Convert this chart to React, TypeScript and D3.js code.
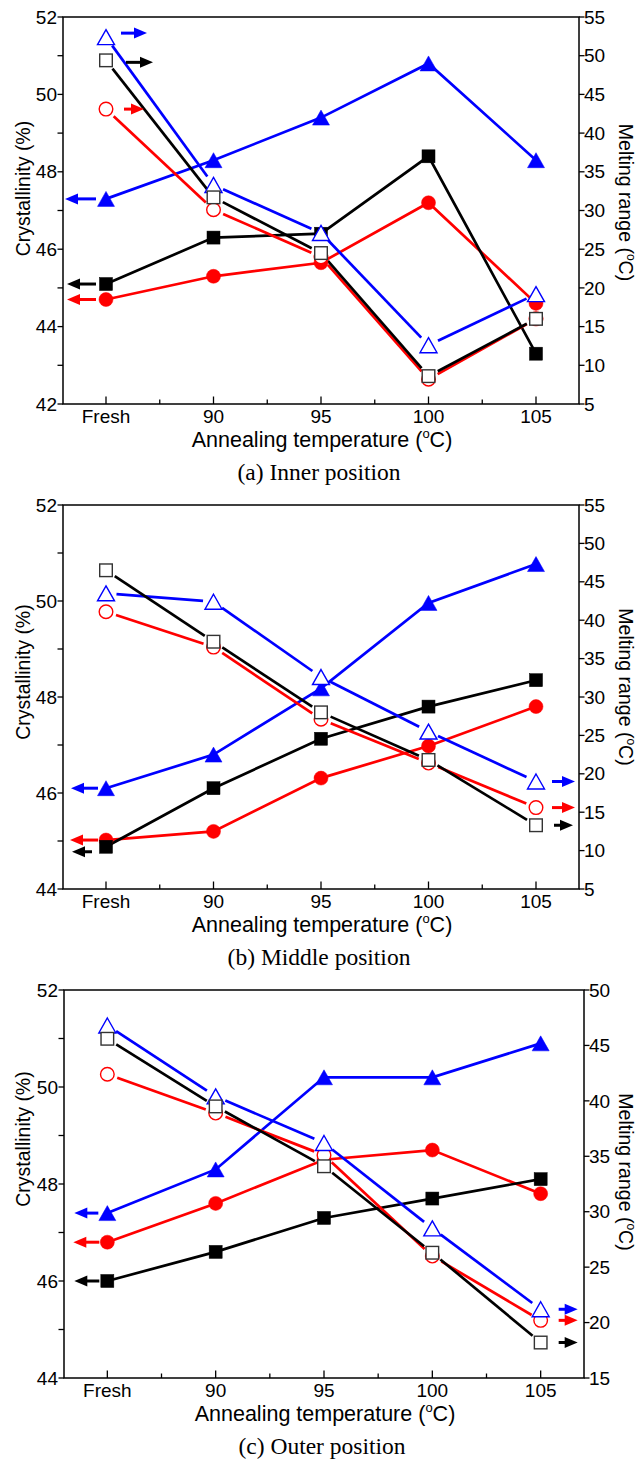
import React from "react";
import * as d3 from "d3";

// ---------- DATA ----------
const categories = ["Fresh", "90", "95", "100", "105"];

// (a) Inner position
const innerCrystBlack = [45.1, 46.3, 46.4, 48.4, 43.3];
const innerCrystRed = [44.7, 45.3, 45.65, 47.2, 44.6];
const innerCrystBlue = [47.3, 48.3, 49.4, 50.8, 48.3];
const innerMeltBlack = [49.4, 31.7, 24.5, 8.6, 16.0];
const innerMeltRed = [43.1, 30.1, 24.0, 8.2, 16.0];
const innerMeltBlue = [52.4, 33.3, 27.1, 12.6, 19.2];

// (b) Middle position
const middleCrystBlack = [44.88, 46.1, 47.13, 47.8, 48.35];
const middleCrystRed = [45.02, 45.2, 46.31, 46.98, 47.8];
const middleCrystBlue = [46.1, 46.8, 48.18, 49.96, 50.77];
const middleMeltBlack = [46.5, 37.2, 28.0, 21.8, 13.3];
const middleMeltRed = [41.1, 36.5, 27.1, 21.4, 15.6];
const middleMeltBlue = [43.5, 42.4, 32.6, 25.5, 19.0];

// (c) Outer position
const outerCrystBlack = [46.0, 46.6, 47.3, 47.7, 48.1];
const outerCrystRed = [46.8, 47.6, 48.5, 48.7, 47.8];
const outerCrystBlue = [47.4, 48.3, 50.2, 50.2, 50.9];
const outerMeltBlack = [45.6, 39.5, 34.1, 26.3, 18.2];
const outerMeltRed = [42.4, 38.9, 35.1, 26.0, 20.2];
const outerMeltBlue = [46.8, 40.4, 36.2, 28.5, 21.2];

const leftDomainA = [42, 52];
const rightDomainA = [5, 55];
const leftDomainB = [44, 52];
const rightDomainB = [5, 55];
const leftDomainC = [44, 52];
const rightDomainC = [15, 50];

const panelTitles = ["(a) Inner position", "(b) Middle position", "(c) Outer position"];

// ---------- STYLE ----------
const BLACK = "#000000";
const RED = "#ff0000";
const BLUE = "#0000ff";
const SANS = "'Liberation Sans', Arial, sans-serif";
const SERIF = "'Liberation Serif', 'Times New Roman', serif";

type Shape = "square" | "circle" | "triangle";
interface Series {
  values: number[];
  color: string;
  shape: Shape;
  filled: boolean;
  axis: "left" | "right";
}
interface Arrow {
  series: number;
  index: number;
  dir: "left" | "right";
  tail: number;
  tip: number;
  dy?: number;
}
interface PanelCfg {
  top: number;
  bottom: number;
  left: number;
  right: number;
  leftDomain: number[];
  rightDomain: number[];
  series: Series[];
  arrows: Arrow[];
  title: string;
  leftTitleDy: number;
  rightTitleDy: number;
}

function mk(values: number[], color: string, shape: Shape, filled: boolean): Series {
  return { values, color, shape, filled, axis: filled ? "left" : "right" };
}

// order: filled (red, blue, black), then open (red, blue, black)
function seriesSet(cr: number[], cb: number[], ck: number[], mr: number[], mb: number[], mk2: number[]): Series[] {
  return [
    mk(cr, RED, "circle", true),
    mk(cb, BLUE, "triangle", true),
    mk(ck, BLACK, "square", true),
    mk(mr, RED, "circle", false),
    mk(mb, BLUE, "triangle", false),
    mk(mk2, BLACK, "square", false),
  ];
}

const panels: PanelCfg[] = [
  {
    top: 17, bottom: 404, left: 63, right: 579,
    leftDomain: leftDomainA, rightDomain: rightDomainA,
    series: seriesSet(innerCrystRed, innerCrystBlue, innerCrystBlack, innerMeltRed, innerMeltBlue, innerMeltBlack),
    arrows: [
      { series: 1, index: 0, dir: "left", tail: -10, tip: -41 },
      { series: 2, index: 0, dir: "left", tail: -10, tip: -39 },
      { series: 0, index: 0, dir: "left", tail: -10, tip: -39 },
      { series: 4, index: 0, dir: "right", tail: 15, tip: 41, dy: -4 },
      { series: 5, index: 0, dir: "right", tail: 20, tip: 47, dy: 2 },
      { series: 3, index: 0, dir: "right", tail: 18, tip: 38 },
    ],
    title: panelTitles[0],
    leftTitleDy: -22,
    rightTitleDy: -8,
  },
  {
    top: 505, bottom: 889, left: 63, right: 579,
    leftDomain: leftDomainB, rightDomain: rightDomainB,
    series: seriesSet(middleCrystRed, middleCrystBlue, middleCrystBlack, middleMeltRed, middleMeltBlue, middleMeltBlack),
    arrows: [
      { series: 1, index: 0, dir: "left", tail: -8, tip: -35 },
      { series: 0, index: 0, dir: "left", tail: -8, tip: -36 },
      { series: 2, index: 0, dir: "left", tail: -14, tip: -34, dy: 5 },
      { series: 4, index: 4, dir: "right", tail: 16, tip: 39 },
      { series: 3, index: 4, dir: "right", tail: 16, tip: 39 },
      { series: 5, index: 4, dir: "right", tail: 18, tip: 37 },
    ],
    title: panelTitles[1],
    leftTitleDy: -25,
    rightTitleDy: -10,
  },
  {
    top: 990, bottom: 1378, left: 64, right: 584,
    leftDomain: leftDomainC, rightDomain: rightDomainC,
    series: seriesSet(outerCrystRed, outerCrystBlue, outerCrystBlack, outerMeltRed, outerMeltBlue, outerMeltBlack),
    arrows: [
      { series: 1, index: 0, dir: "left", tail: -9, tip: -33 },
      { series: 0, index: 0, dir: "left", tail: -8, tip: -34 },
      { series: 2, index: 0, dir: "left", tail: -8, tip: -33 },
      { series: 4, index: 4, dir: "right", tail: 18, tip: 37 },
      { series: 3, index: 4, dir: "right", tail: 18, tip: 37 },
      { series: 5, index: 4, dir: "right", tail: 18, tip: 37 },
    ],
    title: panelTitles[2],
    leftTitleDy: -45,
    rightTitleDy: -12,
  },
];

function Marker({ shape, x, y, color, filled }: { shape: Shape; x: number; y: number; color: string; filled: boolean }) {
  const fill = filled ? color : "#ffffff";
  const sw = filled ? 0.5 : 1.4;
  if (shape === "square") {
    const h = filled ? 6.5 : 6.3;
    return <rect x={x - h} y={y - h} width={2 * h} height={2 * h} fill={fill} stroke={filled ? color : "#333"} strokeWidth={sw} />;
  }
  if (shape === "circle") {
    return <circle cx={x} cy={y} r={filled ? 7 : 6.8} fill={fill} stroke={color} strokeWidth={sw} />;
  }
  const w = 8.5;
  const hh = 7.5;
  const p = `M${x},${y - hh}L${x + w},${y + hh}L${x - w},${y + hh}Z`;
  return <path d={p} fill={fill} stroke={color} strokeWidth={sw} strokeLinejoin="miter" />;
}

function Panel({ cfg }: { cfg: PanelCfg }) {
  const x = d3.scaleLinear().domain([-0.4, 4.4]).range([cfg.left, cfg.right]);
  const yL = d3.scaleLinear().domain(cfg.leftDomain).range([cfg.bottom, cfg.top]);
  const yR = d3.scaleLinear().domain(cfg.rightDomain).range([cfg.bottom, cfg.top]);
  const idx = d3.range(categories.length);
  const leftTicks = d3.range(cfg.leftDomain[0], cfg.leftDomain[1] + 0.001, 1);
  const rightTicks = d3.range(cfg.rightDomain[0], cfg.rightDomain[1] + 0.001, 5);
  const minorX = d3.range(0.5, 4, 1);
  const midY = (cfg.top + cfg.bottom) / 2;
  const midX = (cfg.left + cfg.right) / 2;
  const line = d3.line<[number, number]>();

  const pts = (s: Series) =>
    s.values.map((v, i) => [x(i), s.axis === "left" ? yL(v) : yR(v)] as [number, number]);

  const segs = (s: Series) => {
    const p = pts(s);
    if (s.filled) return [line(p) as string];
    const g = 10.5;
    const out: string[] = [];
    for (let i = 0; i < p.length - 1; i++) {
      const [x0, y0] = p[i];
      const [x1, y1] = p[i + 1];
      const L = Math.hypot(x1 - x0, y1 - y0);
      if (L <= 2 * g) continue;
      const ux = (x1 - x0) / L;
      const uy = (y1 - y0) / L;
      out.push(line([[x0 + ux * g, y0 + uy * g], [x1 - ux * g, y1 - uy * g]]) as string);
    }
    return out;
  };

  return (
    <g>
      {/* frame */}
      <rect x={cfg.left} y={cfg.top} width={cfg.right - cfg.left} height={cfg.bottom - cfg.top} fill="none" stroke="#000" strokeWidth={1.5} />
      {/* bottom ticks (inward) */}
      {idx.map((i) => (
        <line key={"bx" + i} x1={x(i)} x2={x(i)} y1={cfg.bottom} y2={cfg.bottom - 7.5} stroke="#000" strokeWidth={1.3} />
      ))}
      {minorX.map((m) => (
        <line key={"mx" + m} x1={x(m)} x2={x(m)} y1={cfg.bottom} y2={cfg.bottom - 4.5} stroke="#000" strokeWidth={1.3} />
      ))}
      {idx.map((i) => (
        <text key={"bl" + i} x={x(i)} y={cfg.bottom + 19} textAnchor="middle" fontFamily={SANS} fontSize={19}>
          {categories[i]}
        </text>
      ))}
      {/* left axis */}
      {leftTicks.map((t) => (
        <line key={"lt" + t} x1={cfg.left - 5.5} x2={cfg.left} y1={yL(t)} y2={yL(t)} stroke="#000" strokeWidth={1.3} />
      ))}
      {leftTicks.filter((t) => Math.round(t) % 2 === 0).map((t) => (
        <text key={"ll" + t} x={cfg.left - 6} y={yL(t)} dy="0.35em" textAnchor="end" fontFamily={SANS} fontSize={19}>
          {t}
        </text>
      ))}
      {/* right axis */}
      {rightTicks.map((t) => (
        <line key={"rt" + t} x1={cfg.right} x2={cfg.right + 5.5} y1={yR(t)} y2={yR(t)} stroke="#000" strokeWidth={1.3} />
      ))}
      {rightTicks.map((t) => (
        <text key={"rl" + t} x={cfg.right + 5} y={yR(t)} dy="0.35em" textAnchor="start" fontFamily={SANS} fontSize={19}>
          {t}
        </text>
      ))}
      {/* axis titles */}
      <text transform={`translate(30,${midY + cfg.leftTitleDy}) rotate(-90)`} textAnchor="middle" fontFamily={SANS} fontSize={19.5}>
        Crystallinity (%)
      </text>
      <text transform={`translate(619,${midY + cfg.rightTitleDy}) rotate(90)`} textAnchor="middle" fontFamily={SANS} fontSize={19.5}>
        Melting range (<tspan dy={-8} fontSize={12}>o</tspan>
        <tspan dy={8}>C)</tspan>
      </text>
      <text x={midX + 1} y={cfg.bottom + 43} textAnchor="middle" fontFamily={SANS} fontSize={21.5}>
        Annealing temperature (<tspan dy={-9} fontSize={13}>o</tspan>
        <tspan dy={9}>C)</tspan>
      </text>
      <text x={midX - 2} y={cfg.bottom + 76} textAnchor="middle" fontFamily={SERIF} fontSize={23.5}>
        {cfg.title}
      </text>
      {/* lines */}
      {cfg.series.map((s, si) =>
        segs(s).map((d, k) => <path key={"ln" + si + "-" + k} d={d} fill="none" stroke={s.color} strokeWidth={2.7} />)
      )}
      {/* markers */}
      {cfg.series.map((s, si) =>
        pts(s).map(([px, py], i) => <Marker key={"mk" + si + "-" + i} shape={s.shape} x={px} y={py} color={s.color} filled={s.filled} />)
      )}
      {/* arrows */}
      {cfg.arrows.map((a, k) => {
        const s = cfg.series[a.series];
        const px = x(a.index);
        const py = (s.axis === "left" ? yL(s.values[a.index]) : yR(s.values[a.index])) + (a.dy || 0);
        const tail = px + a.tail;
        const tip = px + a.tip;
        const sgn = a.dir === "right" ? 1 : -1;
        const headLen = 13;
        const base = tip - sgn * headLen;
        return (
          <g key={"ar" + k}>
            <line x1={tail} x2={base + sgn * 2} y1={py} y2={py} stroke={s.color} strokeWidth={3} />
            <path d={`M${tip},${py}L${base},${py - 5.5}L${base},${py + 5.5}Z`} fill={s.color} />
          </g>
        );
      })}
    </g>
  );
}

export default function App() {
  return (
    <svg
      width={638}
      height={1460}
      viewBox="0 0 638 1460"
      style={{ position: "absolute", left: 0, top: 0, background: "#fff" }}
    >
      <rect x={0} y={0} width={638} height={1460} fill="#fff" />
      {panels.map((p, i) => (
        <Panel key={i} cfg={p} />
      ))}
    </svg>
  );
}
